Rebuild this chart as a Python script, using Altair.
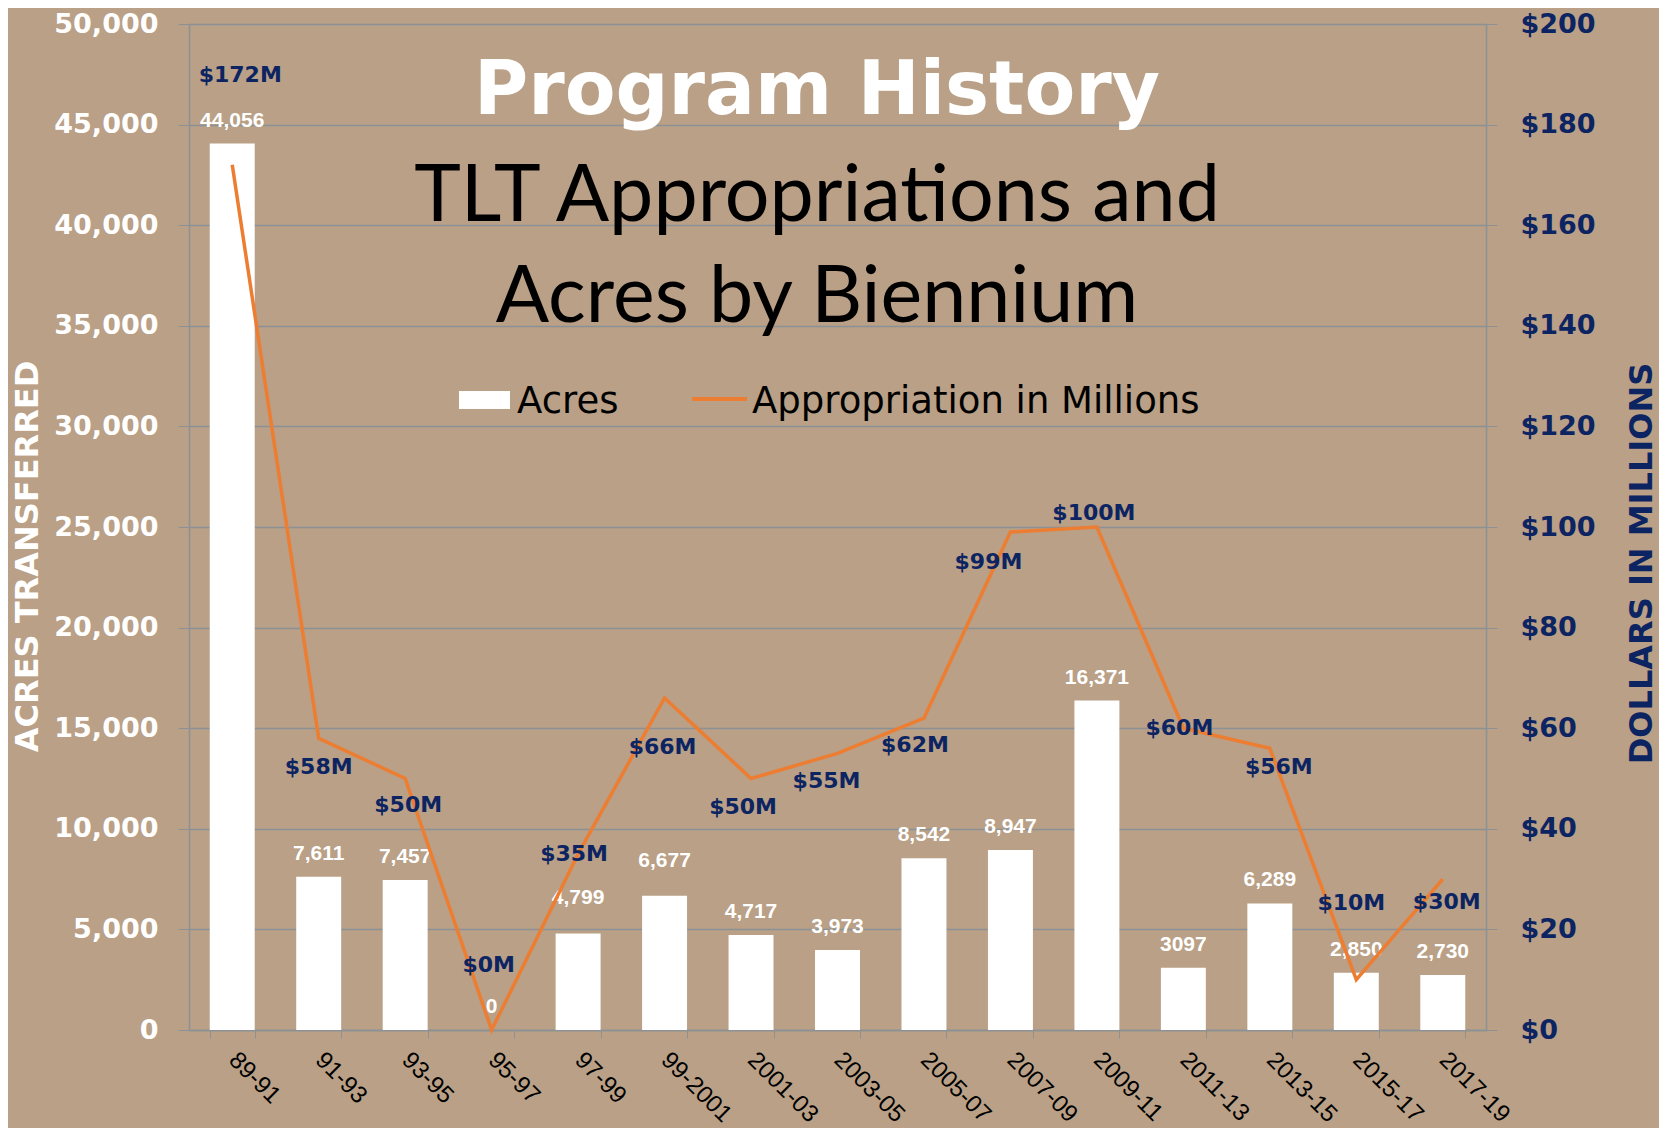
import altair as alt
import pandas as pd

periods = ["89-91", "91-93", "93-95", "95-97", "97-99", "99-2001", "2001-03",
           "2003-05", "2005-07", "2007-09", "2009-11", "2011-13", "2013-15",
           "2015-17", "2017-19"]
acres = [44056, 7611, 7457, 0, 4799, 6677, 4717, 3973, 8542, 8947, 16371,
         3097, 6289, 2850, 2730]
acre_labels = ["44,056", "7,611", "7,457", "0", "4,799", "6,677", "4,717",
               "3,973", "8,542", "8,947", "16,371", "3097", "6,289", "2,850",
               "2,730"]
millions = [172, 58, 50, 0, 35, 66, 50, 55, 62, 99, 100, 60, 56, 10, 30]
money_labels = ["$172M", "$58M", "$50M", "$0M", "$35M", "$66M", "$50M",
                "$55M", "$62M", "$99M", "$100M", "$60M", "$56M", "$10M",
                "$30M"]

df = pd.DataFrame({
    "period": periods,
    "acres": acres,
    "acre_label": acre_labels,
    "millions": millions,
    "money_label": money_labels,
})
one = pd.DataFrame({"k": [0]})

W, H = 1297, 1006
BG = "#B9A086"
NAVY = "#0C2461"
ORANGE = "#ED7D31"
GRID = "#8C9196"

# label placement styles (pixel offsets from the data point)
money_offsets = [(8, -90), (0, 29), (3, 26), (-3, -65), (-4, 0), (-2, 49),
                 (-8, 28), (-11, 28), (-9, 27), (-22, 30), (-3, -14),
                 (-4, 0), (9, 19), (-5, -77), (4, 23)]
raised_bar_labels = ["97-99", "99-2001"]

x_enc = alt.X(
    "period:N", sort=periods,
    scale=alt.Scale(paddingInner=0.48, paddingOuter=0.24),
    axis=alt.Axis(
        title=None, labelAngle=45, labelAlign="left", labelBaseline="middle",
        labelFont="Liberation Sans", labelFontSize=24, labelColor="black",
        labelPadding=18, tickBand="extent", tickColor=GRID, tickSize=8,
        domainColor=GRID, domainWidth=1.5, labelLimit=300,
    ),
)

y_left = alt.Y(
    "acres:Q", scale=alt.Scale(domain=[0, 50000], nice=False),
    axis=alt.Axis(
        values=list(range(0, 50001, 5000)),
        labelExpr="format(datum.value, ',')",
        labelFont="DejaVu Sans", labelFontWeight="bold", labelFontSize=27,
        labelColor="white", labelPadding=20, tickSize=11, tickColor=GRID,
        domainColor=GRID, domainWidth=1.5, grid=True, gridColor=GRID,
        gridWidth=1.5,
        title="ACRES TRANSFERRED", titleFont="DejaVu Sans",
        titleFontWeight="bold", titleFontSize=32, titleColor="white",
        titleAngle=270, titleX=-162, titleY=532, titleAlign="center",
        titleBaseline="middle",
    ),
)

y_right = alt.Y(
    "millions:Q", scale=alt.Scale(domain=[0, 200], nice=False),
    axis=alt.Axis(
        orient="right", values=list(range(0, 201, 20)),
        labelExpr="'$' + format(datum.value, 'd')",
        labelFont="DejaVu Sans", labelFontWeight="bold", labelFontSize=27,
        labelColor=NAVY, labelPadding=23, tickSize=11, tickColor=GRID,
        domainColor=GRID, domainWidth=1.5, grid=False,
        title="DOLLARS IN MILLIONS", titleFont="DejaVu Sans",
        titleFontWeight="bold", titleFontSize=32, titleColor=NAVY,
        titleAngle=270, titleX=155, titleY=539, titleAlign="center",
        titleBaseline="middle",
    ),
)

bars = alt.Chart(df).mark_bar(color="white").encode(x=x_enc, y=y_left)

bar_text_normal = alt.Chart(df).transform_filter(
    ~alt.FieldOneOfPredicate(field="period", oneOf=raised_bar_labels)
).mark_text(
    font="Liberation Sans", fontSize=21, fontWeight="bold", color="white",
    dy=-23, baseline="middle",
).encode(x=x_enc, y=y_left, text="acre_label:N")

bar_text_raised = alt.Chart(df).transform_filter(
    alt.FieldOneOfPredicate(field="period", oneOf=raised_bar_labels)
).mark_text(
    font="Liberation Sans", fontSize=21, fontWeight="bold", color="white",
    dy=-35, baseline="middle",
).encode(x=x_enc, y=y_left, text="acre_label:N")

left = alt.layer(bars, bar_text_normal, bar_text_raised)

line = alt.Chart(df).mark_line(color=ORANGE, strokeWidth=3.5).encode(
    x=x_enc, y=y_right
)

money_layers = []
for p, (dx, dy) in zip(periods, money_offsets):
    money_layers.append(
        alt.Chart(df).transform_filter(alt.datum.period == p).mark_text(
            font="DejaVu Sans", fontSize=22, fontWeight="bold", color=NAVY,
            dx=dx, dy=dy, baseline="middle",
        ).encode(x=x_enc, y=y_right, text="money_label:N")
    )

right = alt.layer(line, *money_layers)

title1 = alt.Chart(one).mark_text(
    text="Program History", font="DejaVu Sans", fontWeight="bold",
    fontSize=74, color="white", align="center", baseline="alphabetic",
).encode(x=alt.value(628), y=alt.value(90))

title2 = alt.Chart(one).mark_text(
    text="TLT Appropriations and", font="Lato", fontSize=79, color="black",
    align="center", baseline="alphabetic",
).encode(x=alt.value(628), y=alt.value(197))

title3 = alt.Chart(one).mark_text(
    text="Acres by Biennium", font="Lato", fontSize=79, color="black",
    align="center", baseline="alphabetic",
).encode(x=alt.value(628), y=alt.value(298))

leg_rect = alt.Chart(one).mark_rect(color="white").encode(
    x=alt.value(270), x2=alt.value(321), y=alt.value(367), y2=alt.value(385)
)
leg_line = alt.Chart(one).mark_rule(color=ORANGE, strokeWidth=4).encode(
    x=alt.value(503), x2=alt.value(558), y=alt.value(375)
)
leg_t1 = alt.Chart(one).mark_text(
    text="Acres", font="DejaVu Sans", fontSize=37, color="black",
    align="left", baseline="alphabetic",
).encode(x=alt.value(328), y=alt.value(389))
leg_t2 = alt.Chart(one).mark_text(
    text="Appropriation in Millions", font="DejaVu Sans", fontSize=37,
    color="black", align="left", baseline="alphabetic",
).encode(x=alt.value(563), y=alt.value(389))

chart = alt.layer(
    left, right, title1, title2, title3, leg_rect, leg_line, leg_t1, leg_t2
).resolve_scale(y="independent").properties(
    width=W, height=H,
    background=BG,
    padding={"left": 181, "top": 16, "right": 173, "bottom": 98},
    autosize=alt.AutoSizeParams(type="none"),
).configure_view(stroke=None)

chart.save("out.html", embed_options={"renderer": "svg", "actions": False})
